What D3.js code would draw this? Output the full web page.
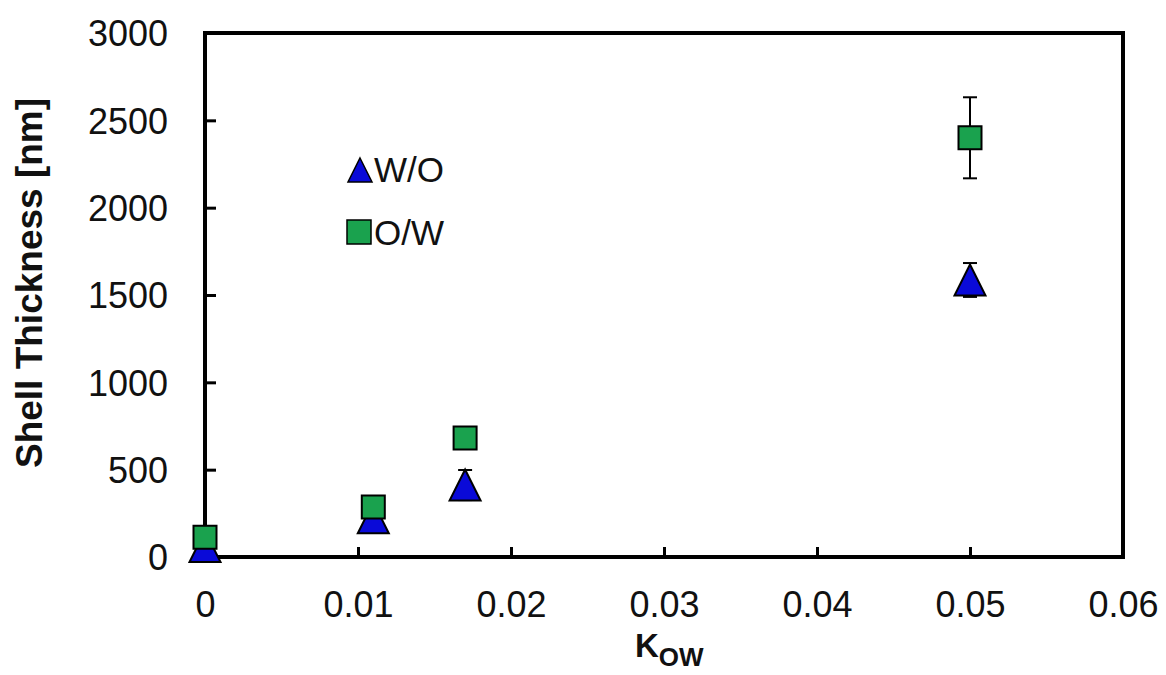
<!DOCTYPE html>
<html>
<head>
<meta charset="utf-8">
<script src="https://cdn.jsdelivr.net/npm/d3@7"></script>
<style>
  body { margin: 0; background: #fff; }
  text { font-family: "Liberation Sans", Arial, sans-serif; }
</style>
</head>
<body>
<div id="chart"></div>
<script>
const width = 1166;
const height = 675;

// data
const kow = [0, 0.011, 0.017, 0.05];
const woValues = [60, 225, 412, 1586];
const woErrors = [0, 0, 86, 97];
const owValues = [113, 286, 681, 2400];
const owErrors = [0, 0, 0, 232];
const xTicks = [0, 0.01, 0.02, 0.03, 0.04, 0.05, 0.06];
const yTicks = [0, 500, 1000, 1500, 2000, 2500, 3000];

const margin = {top: 33, right: 43, bottom: 118, left: 205};

const svg = d3.select("#chart")
  .append("svg")
    .attr("width", width)
    .attr("height", height);

const x = d3.scaleLinear()
  .domain([0, 0.06])
  .range([margin.left, width - margin.right]);

const y = d3.scaleLinear()
  .domain([0, 3000])
  .range([height - margin.bottom, margin.top]);

/* ----------------------- axes ----------------------- */
svg.append("g")
  .attr("transform", `translate(0,${height - margin.bottom})`)
  .call(d3.axisBottom(x).tickValues(xTicks).tickFormat(d => String(+d.toFixed(2))).tickSizeInner(-10).tickSizeOuter(0))
  .call(g => g.select(".domain").remove())
  .call(g => g.selectAll(".tick line").attr("stroke", "#000").attr("stroke-width", 3))
  .call(g => g.selectAll(".tick text")
    .attr("font-size", 36).attr("fill", "#111")
    .attr("y", 60).attr("dy", null));

svg.append("g")
  .attr("transform", `translate(${margin.left},0)`)
  .call(d3.axisLeft(y).tickValues(yTicks).tickFormat(d3.format("d")).tickSizeInner(-11).tickSizeOuter(0))
  .call(g => g.select(".domain").remove())
  .call(g => g.selectAll(".tick line").attr("stroke", "#000").attr("stroke-width", 3))
  .call(g => g.selectAll(".tick text")
    .attr("font-size", 36).attr("fill", "#111")
    .attr("x", -37).attr("dy", "0.36em"));

// frame
svg.append("rect")
  .attr("x", margin.left)
  .attr("y", margin.top)
  .attr("width", width - margin.left - margin.right)
  .attr("height", height - margin.top - margin.bottom)
  .attr("fill", "none")
  .attr("stroke", "#000")
  .attr("stroke-width", 4);

// axis titles
svg.append("text")
  .attr("transform", `translate(42,283) rotate(-90)`)
  .attr("text-anchor", "middle")
  .attr("font-size", 37)
  .attr("font-weight", "bold")
  .attr("fill", "#111")
  .text("Shell Thickness [nm]");

const xlab = svg.append("text")
  .attr("x", 635)
  .attr("y", 657)
  .attr("font-size", 33)
  .attr("font-weight", "bold")
  .attr("fill", "#111");
xlab.append("tspan").text("K");
xlab.append("tspan").attr("font-size", 26).attr("dy", 9).text("OW");

/* ----------------------- markers ----------------------- */
// Excel style triangle: base as wide as it is tall
const excelTriangle = {
  draw(context, size) {
    const s = Math.sqrt(size) / 2;
    context.moveTo(0, -s);
    context.lineTo(s, s);
    context.lineTo(-s, s);
    context.closePath();
  }
};
const triangle = d3.symbol().type(excelTriangle);
const square = d3.symbol().type(d3.symbolSquare);

const wo = kow.map((k, i) => ({k, v: woValues[i], e: woErrors[i]}));
const ow = kow.map((k, i) => ({k, v: owValues[i], e: owErrors[i]}));

function errorBars(data) {
  const g = svg.append("g").attr("stroke", "#000").attr("stroke-width", 2);
  data.filter(d => d.e > 0).forEach(d => {
    g.append("line").attr("x1", x(d.k)).attr("x2", x(d.k)).attr("y1", y(d.v - d.e)).attr("y2", y(d.v + d.e));
    [d.v - d.e, d.v + d.e].forEach(v => {
      g.append("line").attr("x1", x(d.k) - 7).attr("x2", x(d.k) + 7).attr("y1", y(v)).attr("y2", y(v));
    });
  });
}

errorBars(wo);
svg.selectAll(".wo")
  .data(wo)
  .join("path")
    .attr("class", "wo")
    .attr("d", triangle.size(31 * 31))
    .attr("transform", d => `translate(${x(d.k)},${y(d.v)})`)
    .attr("fill", "#0a0ad8")
    .attr("stroke", "#000")
    .attr("stroke-width", 2);

errorBars(ow);
svg.selectAll(".ow")
  .data(ow)
  .join("path")
    .attr("class", "ow")
    .attr("d", square.size(23 * 23))
    .attr("transform", d => `translate(${x(d.k)},${y(d.v)})`)
    .attr("fill", "#1aa24e")
    .attr("stroke", "#000")
    .attr("stroke-width", 2);

/* ----------------------- legend ----------------------- */
const legend = svg.append("g");
legend.append("path")
  .attr("d", triangle.size(24 * 24))
  .attr("transform", "translate(360,170)")
  .attr("fill", "#0a0ad8")
  .attr("stroke", "#000")
  .attr("stroke-width", 1.5);
legend.append("text")
  .attr("x", 374).attr("y", 182)
  .attr("font-size", 35).attr("fill", "#111")
  .text("W/O");
legend.append("path")
  .attr("d", square.size(24 * 24))
  .attr("transform", "translate(359,232)")
  .attr("fill", "#1aa24e")
  .attr("stroke", "#000")
  .attr("stroke-width", 1.5);
legend.append("text")
  .attr("x", 374).attr("y", 245)
  .attr("font-size", 35).attr("fill", "#111")
  .text("O/W");
</script>
</body>
</html>
